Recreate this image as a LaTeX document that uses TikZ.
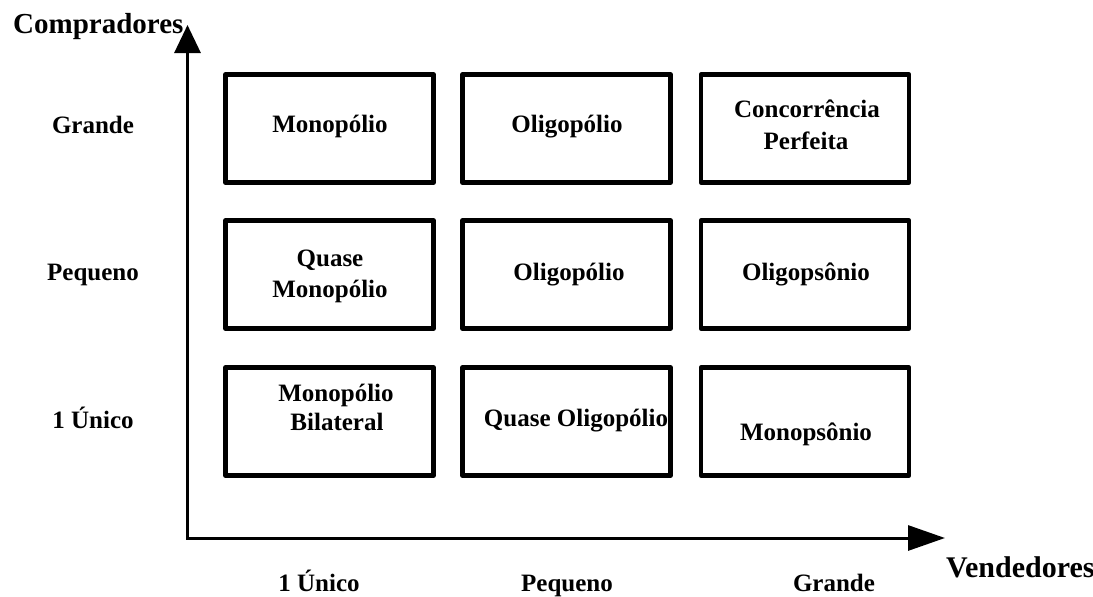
\documentclass[tikz,border=0pt]{standalone}
\usepackage{fontspec}
\setmainfont{Liberation Serif}
\usetikzlibrary{arrows.meta}
\begin{document}
\begin{tikzpicture}[x=1pt,y=-1pt,
  box/.style={draw, line width=4.5pt, line join=round, minimum width=208pt, minimum height=108pt, inner sep=0pt},
  txt/.style={font=\fontsize{25}{30}\selectfont\bfseries, anchor=base, inner sep=0pt},
  big/.style={font=\fontsize{29}{34}\selectfont\bfseries, anchor=base west, inner sep=0pt},
  axisline/.style={line width=3pt}]
\useasboundingbox (0,0) rectangle (1093,597);
% boxes
\node[box] (b11) at (329.5,128.5) {};
\node[box] (b12) at (566.5,128.5) {};
\node[box] (b13) at (805,128.5) {};
\node[box] (b21) at (329.5,274.5) {};
\node[box] (b22) at (566.5,274.5) {};
\node[box] (b23) at (805,274.5) {};
\node[box] (b31) at (329.5,421.5) {};
\node[box] (b32) at (566.5,421.5) {};
\node[box] (b33) at (805,421.5) {};
% box texts
\node[txt] (t11) at (330,132) {Monopólio};
\node[txt] (t12) at (567,132) {Oligopólio};
\node[txt] (t13a) at (807,117) {Concorrência};
\node[txt] (t13b) at (806,149) {Perfeita};
\node[txt] (t21a) at (330,266) {Quase};
\node[txt] (t21b) at (330,297) {Monopólio};
\node[txt] (t22) at (569,280) {Oligopólio};
\node[txt] (t23) at (806,280) {Oligopsônio};
\node[txt] (t31a) at (336,401) {Monopólio};
\node[txt] (t31b) at (337,430) {Bilateral};
\node[txt] (t32) at (576,426) {Quase Oligopólio};
\node[txt] (t33) at (806,440) {Monopsônio};
% axes
\coordinate (O) at (187.5,538);
\coordinate (Ytip) at (187.5,25);
\coordinate (Xtip) at (945,538);
\draw[axisline, {Triangle[length=28pt,width=26pt]}-{Triangle[length=37pt,width=25pt]}] (Ytip) -- (O) -- (Xtip);
% axis titles
\node[big] (ytitle) at (13,33) {Compradores};
\node[big, font=\fontsize{30}{34}\selectfont\bfseries] (xtitle) at (946,577) {Vendedores};
% left labels
\node[txt] (l1) at (93,133) {Grande};
\node[txt] (l2) at (93,280) {Pequeno};
\node[txt] (l3) at (93,428) {1 Único};
% bottom labels
\node[txt] (c1) at (319,591) {1 Único};
\node[txt] (c2) at (567,591) {Pequeno};
\node[txt] (c3) at (834,591) {Grande};
\end{tikzpicture}
\end{document}
